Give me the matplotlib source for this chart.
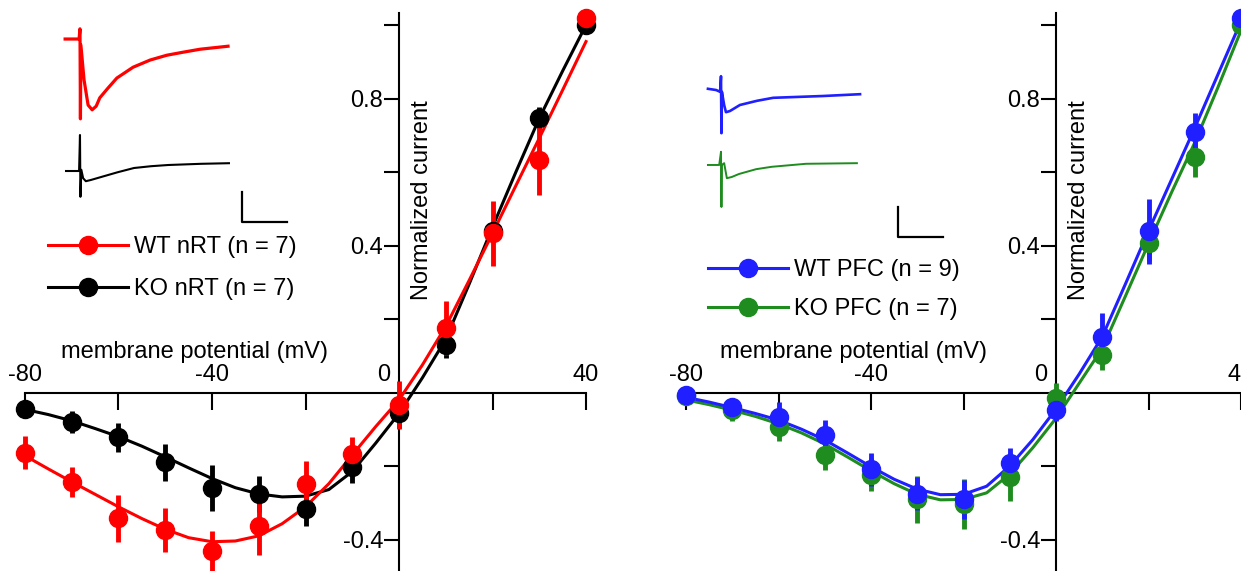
import numpy as np
import matplotlib.pyplot as plt
from matplotlib.lines import Line2D
from matplotlib.transforms import ScaledTranslation

plt.rcParams['font.family'] = ['Liberation Sans', 'DejaVu Sans']

W, H = 1241, 571

# voltage steps (mV) for the measured points and for the fitted curves
volts = [-80, -70, -60, -50, -40, -30, -20, -10, 0, 10, 20, 30, 40]
fit_volts = [-80, -75, -70, -65, -60, -55, -50, -45, -40, -35, -30, -25, -20,
             -15, -10, -5, 0, 5, 10, 15, 20, 25, 30, 35, 40]

# nRT: normalized current, mean and sem
wt_nrt = [-0.164, -0.243, -0.342, -0.374, -0.431, -0.362, -0.249, -0.166, -0.034, 0.175, 0.433, 0.633, 1.02]
wt_nrt_err = [0.045, 0.04, 0.064, 0.06, 0.055, 0.08, 0.064, 0.046, 0.065, 0.073, 0.088, 0.095, 0.0]
ko_nrt = [-0.046, -0.079, -0.122, -0.190, -0.259, -0.276, -0.318, -0.204, -0.057, 0.129, 0.440, 0.746, 1.0]
ko_nrt_err = [0.01, 0.03, 0.04, 0.05, 0.063, 0.05, 0.045, 0.043, 0.04, 0.036, 0.02, 0.03, 0.0]

wt_nrt_fit = [-0.172, -0.208, -0.243, -0.277, -0.311, -0.343, -0.372, -0.395, -0.406, -0.404,
              -0.390, -0.357, -0.311, -0.248, -0.170, -0.093, -0.020, 0.075, 0.180, 0.305,
              0.433, 0.563, 0.692, 0.823, 0.955]
ko_nrt_fit = [-0.046, -0.060, -0.077, -0.098, -0.120, -0.146, -0.175, -0.205, -0.234, -0.259,
              -0.276, -0.284, -0.282, -0.264, -0.215, -0.138, -0.057, 0.040, 0.145, 0.295,
              0.450, 0.600, 0.746, 0.875, 1.000]

# PFC
wt_pfc = [-0.007, -0.039, -0.066, -0.116, -0.209, -0.276, -0.291, -0.191, -0.048, 0.152, 0.439, 0.710, 1.018]
wt_pfc_err = [0.01, 0.012, 0.04, 0.04, 0.045, 0.045, 0.052, 0.04, 0.03, 0.064, 0.088, 0.05, 0.0]
ko_pfc = [-0.01, -0.048, -0.093, -0.170, -0.224, -0.291, -0.302, -0.229, -0.015, 0.102, 0.408, 0.642, 1.0]
ko_pfc_err = [0.01, 0.03, 0.04, 0.04, 0.045, 0.065, 0.068, 0.065, 0.04, 0.04, 0.05, 0.055, 0.0]

wt_pfc_fit = [-0.013, -0.026, -0.041, -0.057, -0.075, -0.100, -0.129, -0.165, -0.202, -0.236,
              -0.263, -0.278, -0.277, -0.255, -0.200, -0.128, -0.045, 0.050, 0.152, 0.295,
              0.440, 0.580, 0.720, 0.865, 1.010]
ko_pfc_fit = [-0.020, -0.033, -0.048, -0.065, -0.085, -0.110, -0.140, -0.176, -0.213, -0.248,
              -0.277, -0.292, -0.291, -0.273, -0.222, -0.150, -0.070, 0.025, 0.120, 0.262,
              0.405, 0.545, 0.680, 0.830, 0.985]

# example traces (time in ms, current in pA relative to baseline)
red_t = [-33, -2, 0, 1, 2, 9, 18, 27, 36, 44, 62, 82, 118, 156, 193, 229, 267, 329]
red_i = [0, 0, 17, -133, -10, -68, -110, -118, -112, -98, -82, -65, -47, -35, -27, -22, -17, -12]
black_t = [-31, -2, 0, 1, 3, 7, 13, 24, 47, 84, 120, 158, 196, 269, 331]
black_i = [0, 0, 60, -43, 2, -12, -17, -15, -10, -2, 5, 8, 10, 12, 13]
blue_t = [-29, -11, -2, 0, 1, 2, 7, 11, 20, 42, 80, 116, 153, 227, 309]
blue_i = [2, 0, -3, 23, -72, -3, -25, -37, -35, -25, -18, -13, -12, -10, -7]
green_t = [-29, -4, 0, 1, 2, 7, 13, 24, 40, 78, 113, 189, 302]
green_i = [0, 0, 22, -70, 0, 3, -22, -20, -15, -7, -3, 2, 3]

RED, BLACK, BLUE, GREEN = '#ff0000', '#000000', '#1f1fff', '#1e8c1e'
FS = 17

fig = plt.figure(figsize=(W / 100, H / 100), dpi=100)


def add_px_axes(x0, x1, y0, y1):
    return fig.add_axes([x0 / W, 1 - y1 / H, (x1 - x0) / W, (y1 - y0) / H])


def style_panel(ax, xlim):
    ax.set_xlim(*xlim)
    ax.set_ylim(-0.49, 1.07)
    ax.spines['right'].set_visible(False)
    ax.spines['bottom'].set_visible(False)
    ax.spines['top'].set_position(('data', 0))
    ax.spines['left'].set_position(('data', 0))
    ax.spines['top'].set_bounds(-80, 40)
    ax.spines['left'].set_bounds(-0.49, 1.033)
    for s in ('top', 'left'):
        ax.spines[s].set_linewidth(1.5)
    ax.xaxis.set_ticks_position('top')
    ax.set_xticks([-80, -60, -40, -20, 0, 20, 40])
    ax.set_xticklabels(['-80', '', '-40', '', '', '', '40'])
    ax.tick_params(axis='x', direction='in', length=12.5, width=1.5, pad=5, labelsize=FS)
    ax.set_yticks([-0.4, -0.2, 0.2, 0.4, 0.6, 0.8, 1.0])
    ax.set_yticklabels(['-0.4', '', '', '0.4', '', '0.8', ''])
    ax.tick_params(axis='y', direction='out', length=10.5, width=1.5, pad=1, labelsize=FS)
    ax.patch.set_alpha(0)
    ax.text(0, 0, '0', ha='right', va='bottom', fontsize=FS,
            transform=ax.transData + ScaledTranslation(-9 / 100, 7 / 100, fig.dpi_scale_trans))
    ax.text(-43.8, 0.110, 'membrane potential (mV)', ha='center', va='center', fontsize=FS)
    ax.text(4.9, 0.524, 'Normalized current', ha='center', va='center', rotation=90, fontsize=FS)


def plot_series(ax, y, err, fit, color):
    ax.plot(fit_volts, fit, color=color, lw=2.2, zorder=3)
    ax.errorbar(volts, y, yerr=err, fmt='o', color=color, ms=13, elinewidth=3.5,
                capsize=0, zorder=4)


def add_legend(ax, colors, labels, x, y, spacing):
    handles = [Line2D([], [], color=c, lw=2.2, marker='o', ms=13) for c in colors]
    ax.legend(handles, labels, loc='upper left', bbox_to_anchor=(x / W, 1 - y / H),
              bbox_transform=fig.transFigure, frameon=False, fontsize=FS,
              handlelength=3.4, handletextpad=0.25, labelspacing=spacing,
              borderpad=0, borderaxespad=0)


def add_inset(rect, tlim, ilim, traces, bar):
    ins = add_px_axes(*rect)
    ins.set_xlim(*tlim)
    ins.set_ylim(*ilim)
    ins.axis('off')
    for t, i, off, color, lw in traces:
        ins.plot(t, np.array(i) + off, color=color, lw=lw)
    bx, by, bw, bh = bar
    ins.plot([bx, bx, bx + bw], [by + bh, by, by], color='black', lw=1.6)


# left panel (nRT)
ax1 = add_px_axes(399 - 85 * 4.675, 399 + 44 * 4.675, -0.7, 572.6)
style_panel(ax1, (-85, 44))
plot_series(ax1, ko_nrt, ko_nrt_err, ko_nrt_fit, BLACK)
plot_series(ax1, wt_nrt, wt_nrt_err, wt_nrt_fit, RED)
add_legend(ax1, [RED, BLACK], ['WT nRT (n = 7)', 'KO nRT (n = 7)'], 48, 236, 0.85)
add_inset((60, 300, 20, 240), (-44.4, 488.9), (-335, 31.7),
          [(red_t, red_i, 0, RED, 2.3), (black_t, black_i, -220, BLACK, 1.5)],
          (360, -305, 100, 50))

# right panel (PFC)
ax2 = add_px_axes(1056 - 85 * 4.625, 1056 + 40 * 4.625, -0.7, 572.6)
style_panel(ax2, (-85, 40))
plot_series(ax2, ko_pfc, ko_pfc_err, ko_pfc_fit, GREEN)
plot_series(ax2, wt_pfc, wt_pfc_err, wt_pfc_fit, BLUE)
add_legend(ax2, [BLUE, GREEN], ['WT PFC (n = 9)', 'KO PFC (n = 7)'], 708, 259, 0.72)
add_inset((680, 960, 20, 260), (-91.1, 531.1), (-283.4, 116.7),
          [(blue_t, blue_i, 0, BLUE, 1.9), (green_t, green_i, -125, GREEN, 1.4)],
          (393, -245, 100, 50))

fig.savefig('out.png', dpi=100)
